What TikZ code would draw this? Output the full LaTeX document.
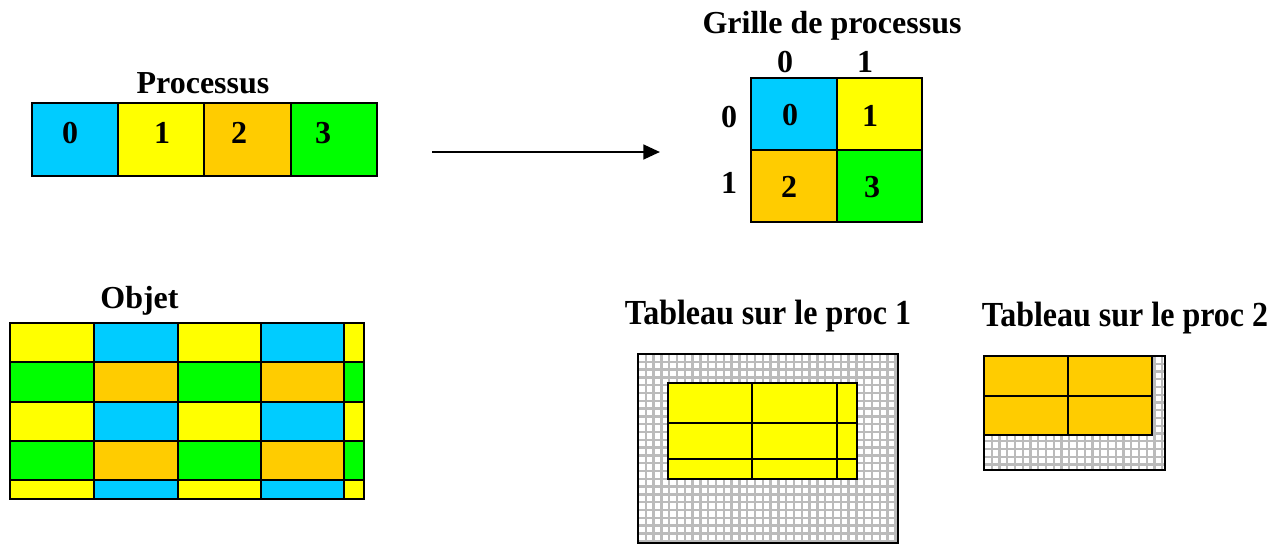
\documentclass[tikz,border=0pt]{standalone}
\usepackage{fontspec}
\setmainfont{Liberation Serif}
\usetikzlibrary{arrows.meta}
\definecolor{pcyan}{HTML}{00CCFF}
\definecolor{pyellow}{HTML}{FFFF00}
\definecolor{porange}{HTML}{FFCC00}
\definecolor{pgreen}{HTML}{00FF00}
\definecolor{gridgray}{HTML}{BBBBBB}
\begin{document}
\begin{tikzpicture}[x=0.75pt,y=-0.75pt,
  cell/.style={draw=black,line width=1.5pt},
  frame/.style={draw=black,line width=1.8pt},
  gridline/.style={draw=gridgray,line width=1.7pt},
  txt/.style={font=\fontsize{24}{28}\selectfont\bfseries,inner sep=0pt,anchor=base},
  arrowline/.style={line width=1.9pt,-{Triangle[length=12.5pt,width=11pt]}}]
\useasboundingbox (0,0) rectangle (1279,546);

% --- linear arrangement of the processes
\node[txt] (tproc) at (203,93) {Processus};
\foreach \a/\b/\c in {32/118/pcyan,118/204/pyellow,204/291/porange,291/377/pgreen}
  \draw[cell,fill=\c] (\a,103) rectangle (\b,176);
\node[txt] (p0) at (70,143) {0};
\node[txt] (p1) at (162,143) {1};
\node[txt] (p2) at (239,143) {2};
\node[txt] (p3) at (323,143) {3};

% --- mapping arrow
\coordinate (afrom) at (432,152);
\coordinate (ato) at (660,152);
\draw[arrowline] (afrom) -- (ato);

% --- 2x2 process grid
\node[txt] (tgrid) at (832,33) {Grille de processus};
\node[txt] (c0) at (785,72) {0};
\node[txt] (c1) at (865,72) {1};
\node[txt] (r0) at (729,127) {0};
\node[txt] (r1) at (729,193) {1};
\draw[cell,fill=pcyan]   (751,78)  rectangle (837,150);
\draw[cell,fill=pyellow] (837,78)  rectangle (922,150);
\draw[cell,fill=porange] (751,150) rectangle (837,222);
\draw[cell,fill=pgreen]  (837,150) rectangle (922,222);
\node[txt] (g0) at (790,125) {0};
\node[txt] (g1) at (870,126) {1};
\node[txt] (g2) at (789,197) {2};
\node[txt] (g3) at (872,197) {3};

% --- block-cyclic distributed object
\node[txt] (tobj) at (139.5,308) {Objet};
\foreach \ya/\yb/\odd in {323/362/1,362/402/0,402/441/1,441/480/0,480/499/1}{
  \ifnum\odd=1
    \def\ca{pyellow}\def\cb{pcyan}
  \else
    \def\ca{pgreen}\def\cb{porange}
  \fi
  \draw[cell,fill=\ca] (10,\ya)  rectangle (94,\yb);
  \draw[cell,fill=\cb] (94,\ya)  rectangle (178,\yb);
  \draw[cell,fill=\ca] (178,\ya) rectangle (261,\yb);
  \draw[cell,fill=\cb] (261,\ya) rectangle (344,\yb);
  \draw[cell,fill=\ca] (344,\ya) rectangle (364,\yb);
}

% --- local array on process 1
\node[txt] (tp1) at (768,324) {\scalebox{1}[1.1]{Tableau sur le proc 1}};
\begin{scope}
  \clip (638,354) rectangle (898,543);
  \foreach \k in {1,...,33} \draw[gridline] ({638+7.8*\k},354) -- ({638+7.8*\k},543);
  \foreach \k in {1,...,24} \draw[gridline] (638,{354+7.8*\k}) -- (898,{354+7.8*\k});
\end{scope}
\draw[frame] (638,354) rectangle (898,543);
\draw[cell,fill=pyellow] (668,383) rectangle (857,479);
\draw[cell] (752,383) -- (752,479);
\draw[cell] (837,383) -- (837,479);
\draw[cell] (668,423) -- (857,423);
\draw[cell] (668,459) -- (857,459);

% --- local array on process 2
\node[txt] (tp2) at (1125,326) {\scalebox{1}[1.1]{Tableau sur le proc 2}};
\begin{scope}
  \clip (984,356) rectangle (1165,470);
  \foreach \k in {1,...,23} \draw[gridline] ({984+7.75*\k},356) -- ({984+7.75*\k},470);
  \foreach \k in {1,...,14} \draw[gridline] (984,{356+7.75*\k}) -- (1165,{356+7.75*\k});
\end{scope}
\draw[frame] (984,356) rectangle (1165,470);
\draw[cell,fill=porange] (984,356) rectangle (1152,435);
\draw[cell] (1068,356) -- (1068,435);
\draw[cell] (984,396) -- (1152,396);
\end{tikzpicture}
\end{document}
